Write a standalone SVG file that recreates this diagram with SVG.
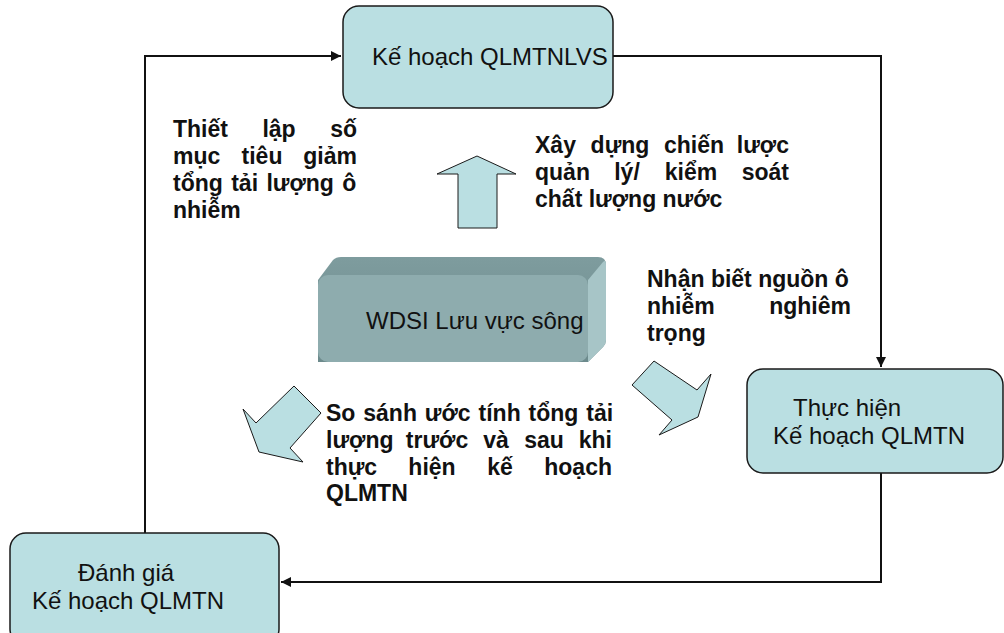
<svg xmlns="http://www.w3.org/2000/svg" width="1004" height="633" viewBox="0 0 1004 633">
  <defs>
    <style>
      .box { fill: #BADFE2; stroke: #1a1a1a; stroke-width: 1.5; }
      .lbl { font-family: "Liberation Sans", Arial, sans-serif; font-size: 24px; fill: #111; }
      .note { font-family: "Liberation Sans", Arial, sans-serif; font-size: 23px; font-weight: bold; fill: #111; }
      .blk { fill: #BADFE2; stroke: #1a1a1a; stroke-width: 1; stroke-linejoin: miter; }
      .wire { fill: none; stroke: #111; stroke-width: 2; }
    </style>
    <marker id="tip" viewBox="0 0 10 10" refX="10" refY="5" markerWidth="5" markerHeight="5" orient="auto" markerUnits="strokeWidth">
      <path d="M0,0 L10,5 L0,10 Z" fill="#111"/>
    </marker>
    <linearGradient id="topFace" x1="0" y1="0" x2="0" y2="1">
      <stop offset="0" stop-color="#7E9C9E"/>
      <stop offset="1" stop-color="#6C8A8C"/>
    </linearGradient>
  </defs>

  <rect width="1004" height="633" fill="#fff"/>

  <!-- connectors -->
  <g id="connectors">
    <polyline class="wire" points="145,533 145,56 341,56" marker-end="url(#tip)"/>
    <polyline class="wire" points="613,56 881,56 881,367" marker-end="url(#tip)"/>
    <polyline class="wire" points="881,473 881,582 281,582" marker-end="url(#tip)"/>
  </g>

  <!-- plan box -->
  <g id="plan">
    <rect class="box" x="343" y="6" width="270" height="102" rx="16"/>
    <text class="lbl" x="372" y="65">Kế hoạch QLMTNLVS</text>
  </g>

  <!-- implementation box -->
  <g id="implement">
    <rect class="box" x="747" y="369" width="256" height="104" rx="16"/>
    <text class="lbl" x="793" y="416">Thực hiện</text>
    <text class="lbl" x="773" y="444">Kế hoạch QLMTN</text>
  </g>

  <!-- evaluation box -->
  <g id="evaluate">
    <rect class="box" x="10" y="533" width="269" height="112" rx="16"/>
    <text class="lbl" x="78" y="581">Đánh giá</text>
    <text class="lbl" x="32" y="609">Kế hoạch QLMTN</text>
  </g>

  <!-- central watershed block -->
  <g id="wdsi">
    <path d="M318,285 L318,280 L333,260 Q336,257 341,257 L598,257 Q606,257 606,265 L606,340 Q606,344 603,347 L588,362 L318,362 Z" fill="url(#topFace)"/>
    <path d="M588,280 L603,262 Q606,259 606,265 L606,340 Q606,344 603,347 L588,362 Z" fill="#A7C5C7"/>
    <rect x="318" y="275" width="270" height="87" rx="10" fill="#8EACAE"/>
    <text class="lbl" x="366" y="329">WDSI Lưu vực sông</text>
  </g>

  <!-- block arrows -->
  <g id="arrow-up">
    <polygon class="blk" points="477,156 516,174 497,174 497,228 458,228 458,174 437,174"/>
  </g>
  <g id="arrow-down-left">
    <polygon class="blk" points="294,386 321,413 290,448 303,462 259,452 243,409 256,423"/>
  </g>
  <g id="arrow-down-right">
    <polygon class="blk" points="654,361 697,390 711,374 698,417 659,435 672,420 632,385"/>
  </g>

  <!-- note: set reduction targets -->
  <g id="note-targets" class="note">
    <text x="173" y="137">Thiết</text>
    <text x="279" y="137" text-anchor="middle">lập</text>
    <text x="357" y="137" text-anchor="end">số</text>
    <text x="173" y="164">mục</text>
    <text x="262" y="164" text-anchor="middle">tiêu</text>
    <text x="357" y="164" text-anchor="end">giảm</text>
    <text x="173" y="191" word-spacing="2">tổng tải lượng ô</text>
    <text x="173" y="218">nhiễm</text>
  </g>

  <!-- note: build strategy -->
  <g id="note-strategy" class="note">
    <text x="535" y="153">Xây</text>
    <text x="620" y="153" text-anchor="middle">dựng</text>
    <text x="694" y="153" text-anchor="middle">chiến</text>
    <text x="789" y="153" text-anchor="end">lược</text>
    <text x="535" y="180">quản</text>
    <text x="627" y="180" text-anchor="middle">lý/</text>
    <text x="691" y="180" text-anchor="middle">kiểm</text>
    <text x="789" y="180" text-anchor="end">soát</text>
    <text x="535" y="207">chất lượng nước</text>
  </g>

  <!-- note: identify sources -->
  <g id="note-sources" class="note">
    <text x="647" y="287">Nhận biết nguồn ô</text>
    <text x="647" y="314">nhiễm</text>
    <text x="851" y="314" text-anchor="end">nghiêm</text>
    <text x="647" y="341">trọng</text>
  </g>

  <!-- note: compare loads -->
  <g id="note-compare" class="note">
    <text x="326" y="421" word-spacing="1.5">So sánh ước tính tổng tải</text>
    <text x="326" y="448">lượng</text>
    <text x="437" y="448" text-anchor="middle">trước</text>
    <text x="496" y="448" text-anchor="middle">và</text>
    <text x="544" y="448" text-anchor="middle">sau</text>
    <text x="612" y="448" text-anchor="end">khi</text>
    <text x="326" y="475">thực</text>
    <text x="432" y="475" text-anchor="middle">hiện</text>
    <text x="500" y="475" text-anchor="middle">kế</text>
    <text x="612" y="475" text-anchor="end">hoạch</text>
    <text x="326" y="501">QLMTN</text>
  </g>
</svg>
